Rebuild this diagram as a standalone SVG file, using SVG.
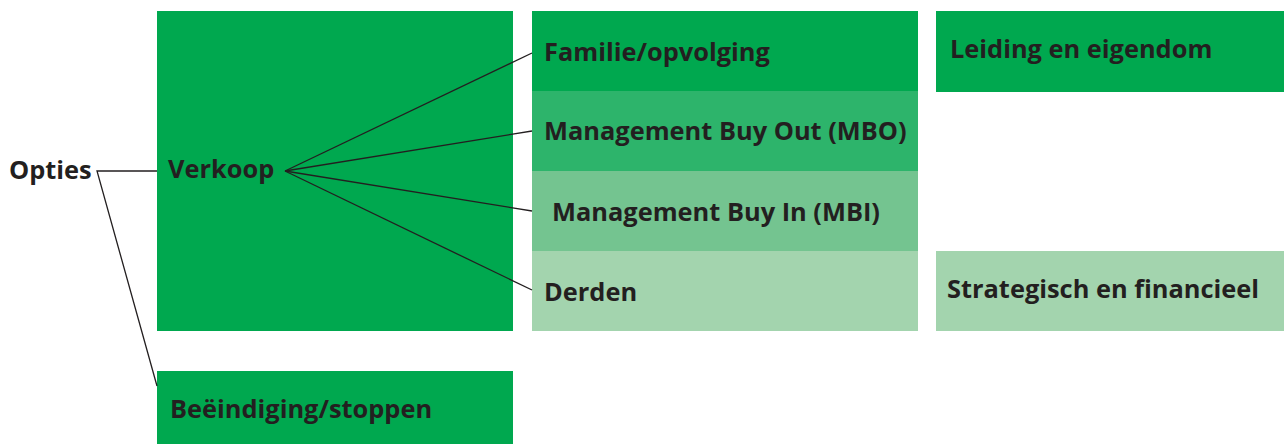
<svg xmlns="http://www.w3.org/2000/svg" width="1288" height="444" viewBox="0 0 1288 444">
  <style>
    .lbl { font-family: "Open Sans", "Noto Sans", "Liberation Sans", sans-serif; font-weight: bold; font-size: 25.4px; fill: #231f20; }
    .g1 { fill: #00a84f; }
    .g2 { fill: #2db46b; }
    .g3 { fill: #74c490; }
    .g4 { fill: #a3d4ae; }
    .wire { stroke: #231f20; stroke-width: 1.3; fill: none; }
  </style>
  <rect width="1288" height="444" fill="#ffffff"/>

  <g id="opties">
    <text class="lbl" x="9" y="179">Opties</text>
  </g>
  <g id="verkoop">
    <rect class="g1" x="157" y="11" width="356" height="320"/>
    <text class="lbl" x="168" y="178">Verkoop</text>
  </g>
  <g id="beeindiging">
    <rect class="g1" x="157" y="371" width="356" height="73"/>
    <text class="lbl" x="170" y="418">Beëindiging/stoppen</text>
  </g>
  <g id="familie">
    <rect class="g1" x="532" y="11" width="386" height="80"/>
    <text class="lbl" x="544" y="61">Familie/opvolging</text>
  </g>
  <g id="mbo">
    <rect class="g2" x="532" y="91" width="386" height="80"/>
    <text class="lbl" x="544" y="140">Management Buy Out (MBO)</text>
  </g>
  <g id="mbi">
    <rect class="g3" x="532" y="171" width="386" height="80"/>
    <text class="lbl" x="552" y="221">Management Buy In (MBI)</text>
  </g>
  <g id="derden">
    <rect class="g4" x="532" y="251" width="386" height="80"/>
    <text class="lbl" x="544" y="301">Derden</text>
  </g>
  <g id="leiding">
    <rect class="g1" x="936" y="11" width="348" height="81"/>
    <text class="lbl" x="950" y="58">Leiding en eigendom</text>
  </g>
  <g id="strategisch">
    <rect class="g4" x="936" y="251" width="348" height="80"/>
    <text class="lbl" x="947" y="298">Strategisch en financieel</text>
  </g>

  <g id="connectors">
    <polyline class="wire" points="157,171 97,171 157,386"/>
    <line class="wire" x1="285" y1="171" x2="532" y2="53"/>
    <line class="wire" x1="285" y1="171" x2="532" y2="131"/>
    <line class="wire" x1="285" y1="171" x2="532" y2="211"/>
    <line class="wire" x1="285" y1="171" x2="532" y2="290"/>
  </g>
</svg>
